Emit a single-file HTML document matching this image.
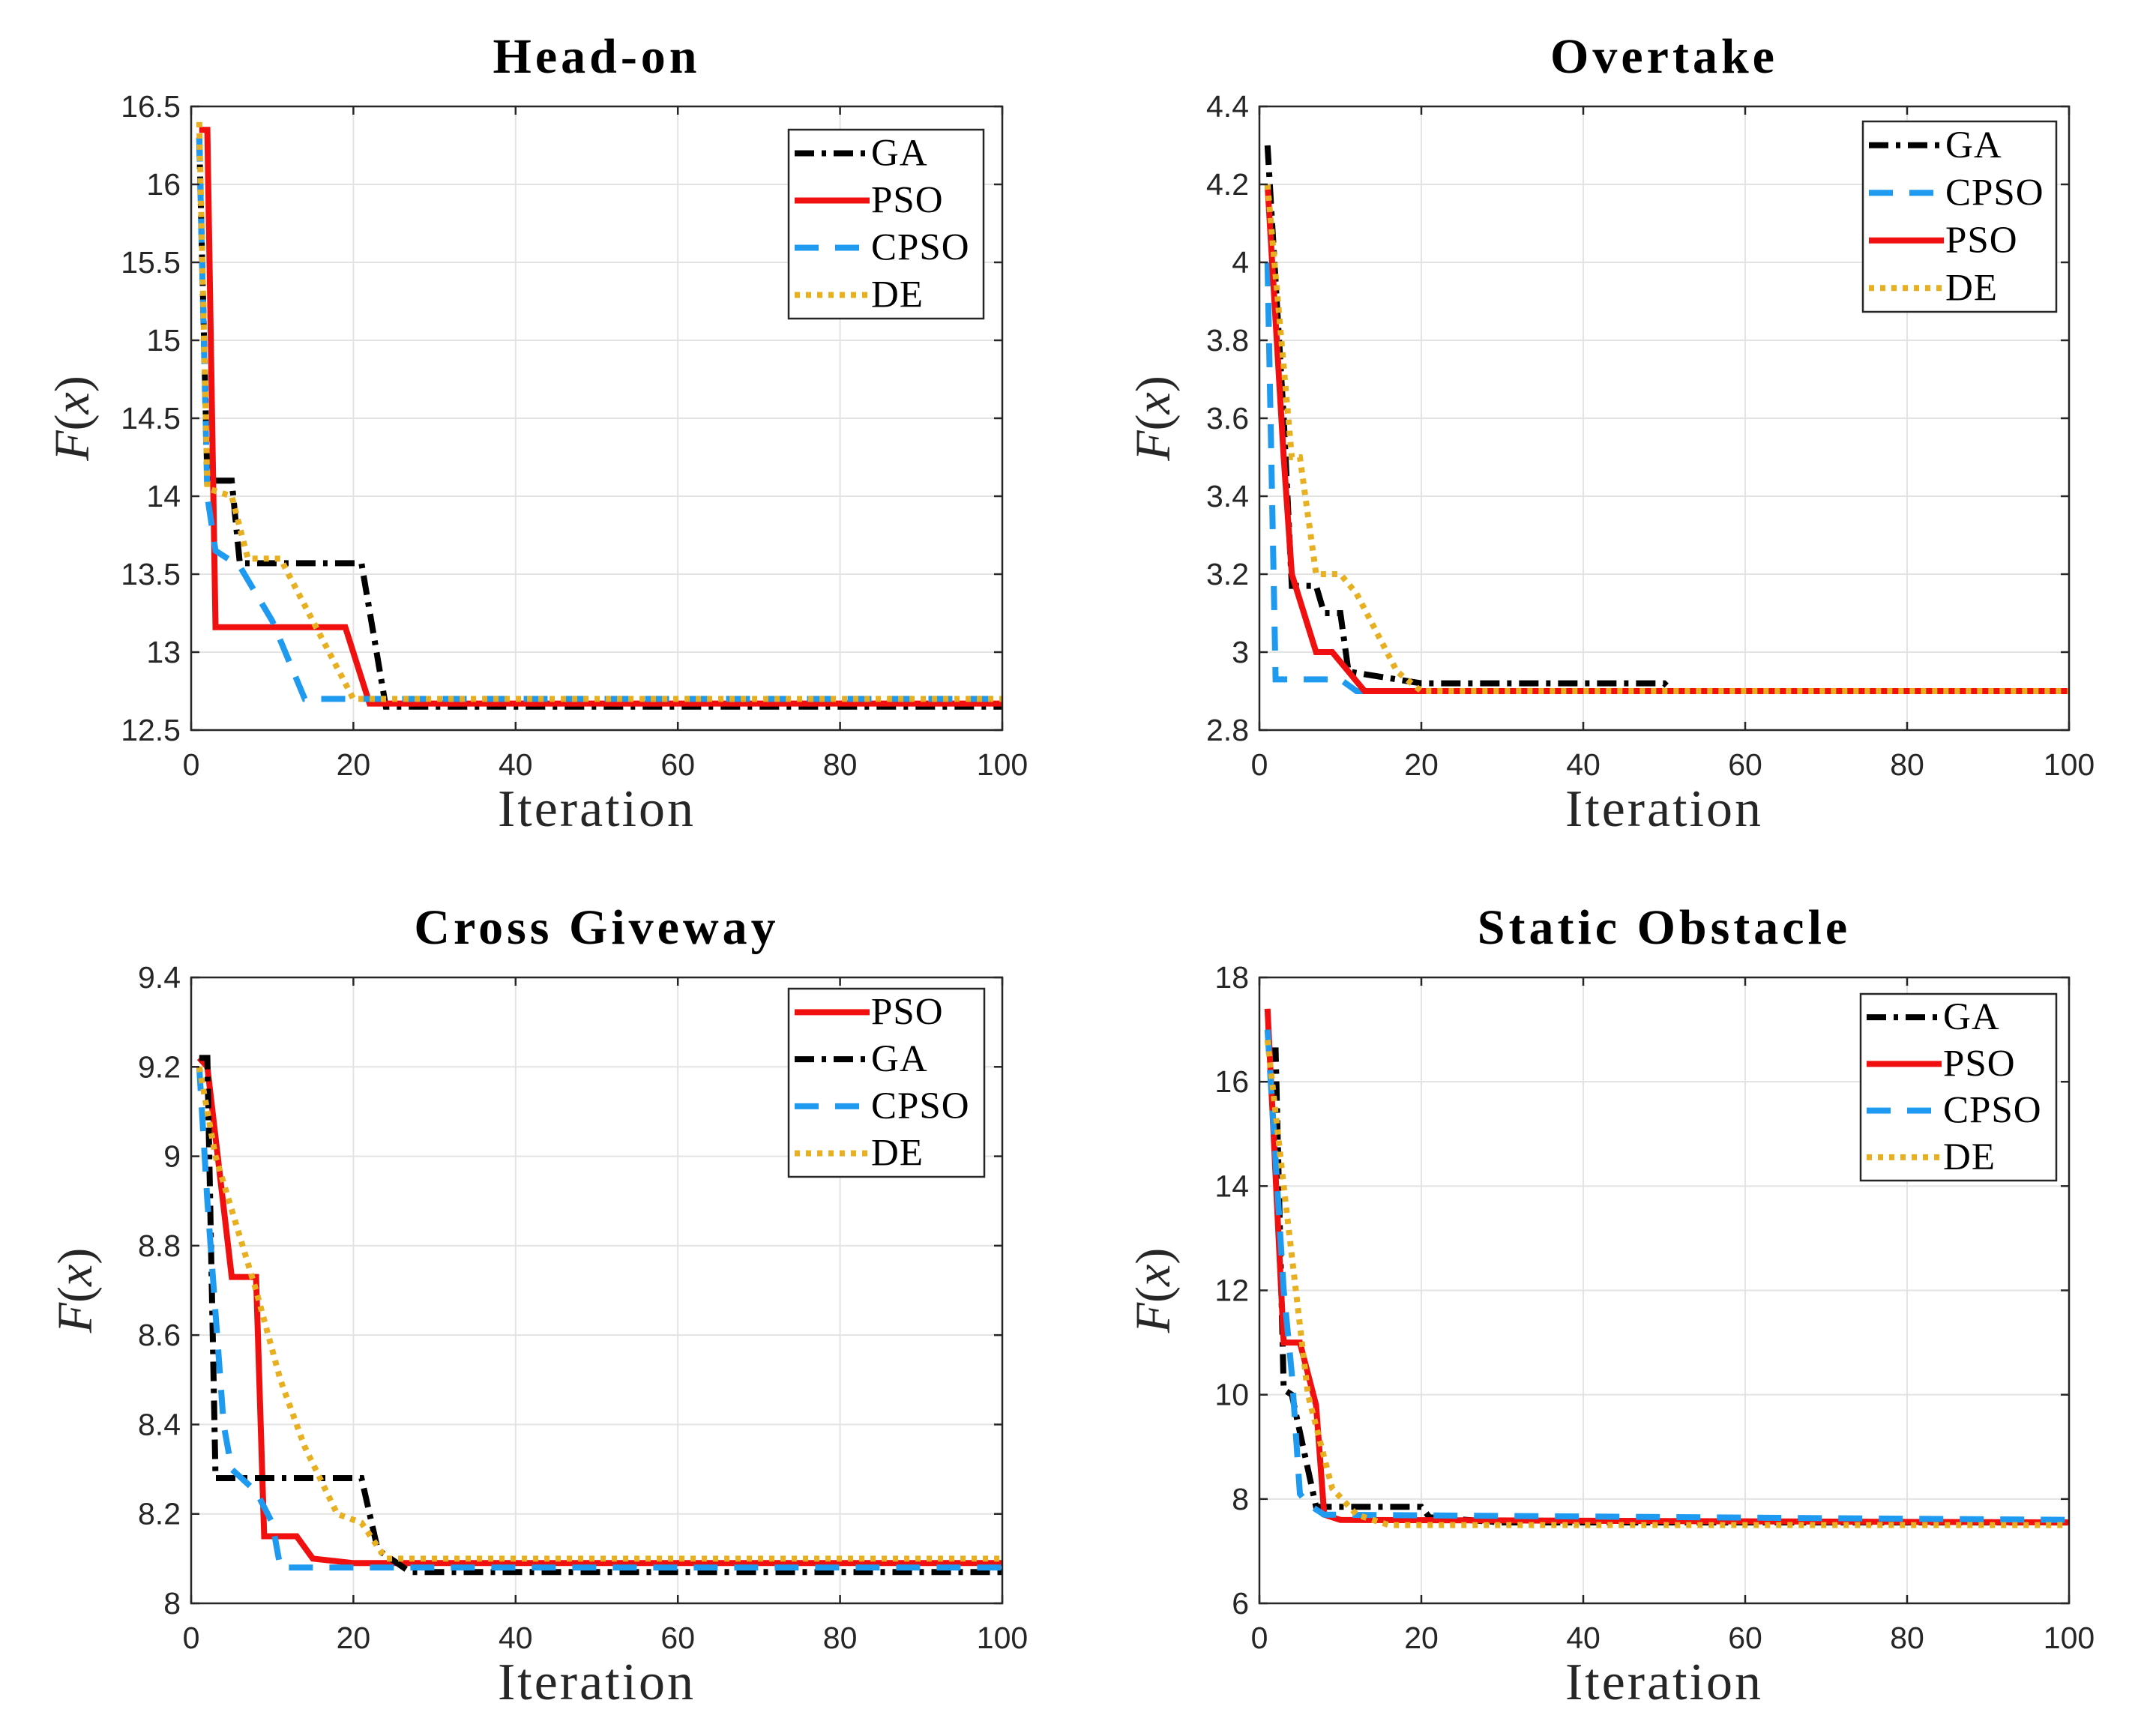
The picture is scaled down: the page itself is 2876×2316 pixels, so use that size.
<!DOCTYPE html>
<html><head><meta charset="utf-8"><style>
html,body{margin:0;padding:0;background:#fff;}
svg{display:block;}
</style></head><body>
<svg id="fig" xmlns="http://www.w3.org/2000/svg" width="2876" height="2316" viewBox="0 0 2876 2316">
<rect width="2876" height="2316" fill="#fff"/>
</svg>
<script>
// Head-on data
const headGA_x=[1,2,5,6,21,24,100];
const headGA_y=[16.3,14.1,14.1,13.57,13.57,12.65,12.65];
const headPSO_x=[1,2,3,19,22,100];
const headPSO_y=[16.35,16.35,13.16,13.16,12.67,12.67];
const headCPSO_x=[1,2,3,6,10,14,100];
const headCPSO_y=[16.3,14.0,13.65,13.55,13.2,12.7,12.7];
const headDE_x=[1,2,5,7,11,20,100];
const headDE_y=[16.4,14.05,14.0,13.6,13.6,12.7,12.7];
// Overtake data
const overGA_x=[1,3,4,7,8,10,11,20,50,51,100];
const overGA_y=[4.3,3.6,3.17,3.17,3.1,3.1,2.95,2.92,2.92,2.9,2.9];
const overCPSO_x=[1,2,10,12,100];
const overCPSO_y=[4.0,2.93,2.93,2.9,2.9];
const overPSO_x=[1,3,4,7,9,13,100];
const overPSO_y=[4.2,3.5,3.2,3.0,3.0,2.9,2.9];
const overDE_x=[1,4,5,7,10,12,17,20,100];
const overDE_y=[4.2,3.5,3.5,3.2,3.2,3.15,2.95,2.9,2.9];
// Cross Giveway data
const crossPSO_x=[1,2,5,8,9,13,15,20,100];
const crossPSO_y=[9.22,9.2,8.73,8.73,8.15,8.15,8.1,8.09,8.09];
const crossGA_x=[1,2,3,21,23,27,100];
const crossGA_y=[9.22,9.22,8.28,8.28,8.12,8.07,8.07];
const crossCPSO_x=[1,2,4,5,8,10,11,100];
const crossCPSO_y=[9.2,8.9,8.4,8.3,8.25,8.18,8.08,8.08];
const crossDE_x=[1,3,8,11,14,18,21,24,100];
const crossDE_y=[9.2,9.0,8.7,8.5,8.35,8.2,8.18,8.1,8.1];
// Static Obstacle data
const statGA_x=[1,2,3,4,7,20,21,30,100];
const statGA_y=[16.6,16.6,10.1,10.0,7.85,7.85,7.65,7.55,7.55];
const statPSO_x=[1,3,5,7,8,10,100];
const statPSO_y=[17.4,11.0,11.0,9.8,7.7,7.6,7.55];
const statCPSO_x=[1,3,4,5,6,8,100];
const statCPSO_y=[17.0,12.0,10.4,8.1,7.9,7.7,7.6];
const statDE_x=[1,3,6,9,12,16,100];
const statDE_y=[16.8,14.0,10.0,8.2,7.7,7.5,7.5];
// ticks
const xTicks=[0,20,40,60,80,100];
const headTicks=[12.5,13,13.5,14,14.5,15,15.5,16,16.5];
const overTicks=[2.8,3,3.2,3.4,3.6,3.8,4,4.2,4.4];
const crossTicks=[8,8.2,8.4,8.6,8.8,9,9.2,9.4];
const statTicks=[6,8,10,12,14,16,18];

const NS="http://www.w3.org/2000/svg";
const svg=document.getElementById('fig');
function mk(tag,attrs,parent){const e=document.createElementNS(NS,tag);for(const k in attrs)e.setAttribute(k,attrs[k]);(parent||svg).appendChild(e);return e;}

const styles={
 GA:{stroke:'#000',dash:'26,10,6,10',cap:'butt'},
 PSO:{stroke:'#f01010',dash:'',cap:'butt'},
 CPSO:{stroke:'#1e9bf0',dash:'32,22',cap:'butt'},
 DE:{stroke:'#e8b020',dash:'7,8',cap:'butt'}
};

const panels=[
 {key:'head-on',title:'Head-on',L:255,T:142,R:1337,B:974,ymin:12.5,ymax:16.5,ticks:headTicks,
  leg:[1052,173,1312,425],ylab:118,
  series:[['GA',headGA_x,headGA_y],['PSO',headPSO_x,headPSO_y],['CPSO',headCPSO_x,headCPSO_y],['DE',headDE_x,headDE_y]]},
 {key:'overtake',title:'Overtake',L:1680,T:142,R:2760,B:974,ymin:2.8,ymax:4.4,ticks:overTicks,
  leg:[2485,162,2743,416],ylab:1560,
  series:[['GA',overGA_x,overGA_y],['CPSO',overCPSO_x,overCPSO_y],['PSO',overPSO_x,overPSO_y],['DE',overDE_x,overDE_y]]},
 {key:'cross-giveway',title:'Cross Giveway',L:255,T:1304,R:1337,B:2139,ymin:8,ymax:9.4,ticks:crossTicks,
  leg:[1052,1319,1313,1570],ylab:122,
  series:[['PSO',crossPSO_x,crossPSO_y],['GA',crossGA_x,crossGA_y],['CPSO',crossCPSO_x,crossCPSO_y],['DE',crossDE_x,crossDE_y]]},
 {key:'static-obstacle',title:'Static Obstacle',L:1680,T:1304,R:2760,B:2139,ymin:6,ymax:18,ticks:statTicks,
  leg:[2482,1326,2743,1575],ylab:1560,
  series:[['GA',statGA_x,statGA_y],['PSO',statPSO_x,statPSO_y],['CPSO',statCPSO_x,statCPSO_y],['DE',statDE_x,statDE_y]]}
];

panels.forEach(p=>{
 const g=mk('g',{});
 
 
 const sx=v=>p.L+(v-0)/(100-0)*(p.R-p.L);
 const sy=v=>p.B-(v-p.ymin)/(p.ymax-p.ymin)*(p.B-p.T);
 const grid=mk('g',{stroke:'#e3e3e3','stroke-width':2},g);
 
 
 xTicks.forEach(t=>{mk('line',{x1:sx(t),x2:sx(t),y1:p.T,y2:p.B},grid);});
 p.ticks.forEach(t=>{mk('line',{x1:p.L,x2:p.R,y1:sy(t),y2:sy(t)},grid);});
 const clip=mk('clipPath',{id:'clip-'+p.key},g);
 mk('rect',{x:p.L,y:p.T,width:p.R-p.L,height:p.B-p.T},clip);
 const sg=mk('g',{'clip-path':'url(#clip-'+p.key+')'},g);
 p.series.forEach(s=>{
  const st=styles[s[0]];
  const pts=s[1].map((x,i)=>sx(x).toFixed(1)+','+sy(s[2][i]).toFixed(1)).join(' ');
  const pl=mk('polyline',{points:pts,fill:'none',stroke:st.stroke,'stroke-width':8,'stroke-dasharray':st.dash,'stroke-linecap':st.cap,'stroke-linejoin':'miter'},sg);
  
  
 });
 const box=mk('rect',{x:p.L,y:p.T,width:p.R-p.L,height:p.B-p.T,fill:'none',stroke:'#262626','stroke-width':2.5},g);
 
 
 xTicks.forEach(t=>{
  mk('line',{x1:sx(t),x2:sx(t),y1:p.B,y2:p.B-11,stroke:'#262626','stroke-width':2.5},g);
  mk('line',{x1:sx(t),x2:sx(t),y1:p.T,y2:p.T+11,stroke:'#262626','stroke-width':2.5},g);
  const tx=mk('text',{x:sx(t),y:p.B+60,'text-anchor':'middle','font-family':'Liberation Sans, sans-serif','font-size':41,fill:'#262626'},g);
  tx.textContent=String(t);
  
  
 });
 p.ticks.forEach(t=>{
  mk('line',{x1:p.L,x2:p.L+11,y1:sy(t),y2:sy(t),stroke:'#262626','stroke-width':2.5},g);
  mk('line',{x1:p.R,x2:p.R-11,y1:sy(t),y2:sy(t),stroke:'#262626','stroke-width':2.5},g);
  const ty=mk('text',{x:p.L-14,y:sy(t)+14,'text-anchor':'end','font-family':'Liberation Sans, sans-serif','font-size':41,fill:'#262626'},g);
  ty.textContent=String(Math.round(t*10)/10);
  
  
 });
 const ti=mk('text',{x:(p.L+p.R)/2,y:p.T-45,'text-anchor':'middle','font-family':'Liberation Serif, serif','font-weight':'bold','font-size':66,'letter-spacing':5,fill:'#000'},g);
 ti.textContent=p.title;
 
 
 const xl=mk('text',{x:(p.L+p.R)/2,y:p.B+128,'text-anchor':'middle','font-family':'Liberation Serif, serif','font-size':70,'letter-spacing':3,fill:'#262626'},g);
 xl.textContent='Iteration';
 
 
 const cy=(p.T+p.B)/2;
 const yl=mk('text',{x:p.ylab,y:cy,'text-anchor':'middle','font-family':'Liberation Serif, serif','font-size':66,fill:'#262626',transform:'rotate(-90 '+p.ylab+' '+cy+')'},g);
 yl.innerHTML='<tspan font-style="italic">F</tspan>(<tspan font-style="italic">x</tspan>)';
 
 
 const [lx,ly,lx2,ly2]=p.leg;
 const lg=mk('g',{},g);
 
 
 mk('rect',{x:lx,y:ly,width:lx2-lx,height:ly2-ly,fill:'#fff',stroke:'#262626','stroke-width':2.5},lg);
 const rowH=(ly2-ly)/4;
 p.series.forEach((s,i)=>{
  const st=styles[s[0]];
  const yy=ly+rowH*(i+0.5);
  const e=mk('g',{},lg);
  
  
  mk('line',{x1:lx+8,x2:lx+108,y1:yy,y2:yy,stroke:st.stroke,'stroke-width':8,'stroke-dasharray':st.dash},e);
  const lt=mk('text',{x:lx+110,y:yy+16,'font-family':'Liberation Serif, serif','font-size':51,'letter-spacing':1,fill:'#000'},e);
  lt.textContent=s[0];
 });
});
</script>
</body></html>
